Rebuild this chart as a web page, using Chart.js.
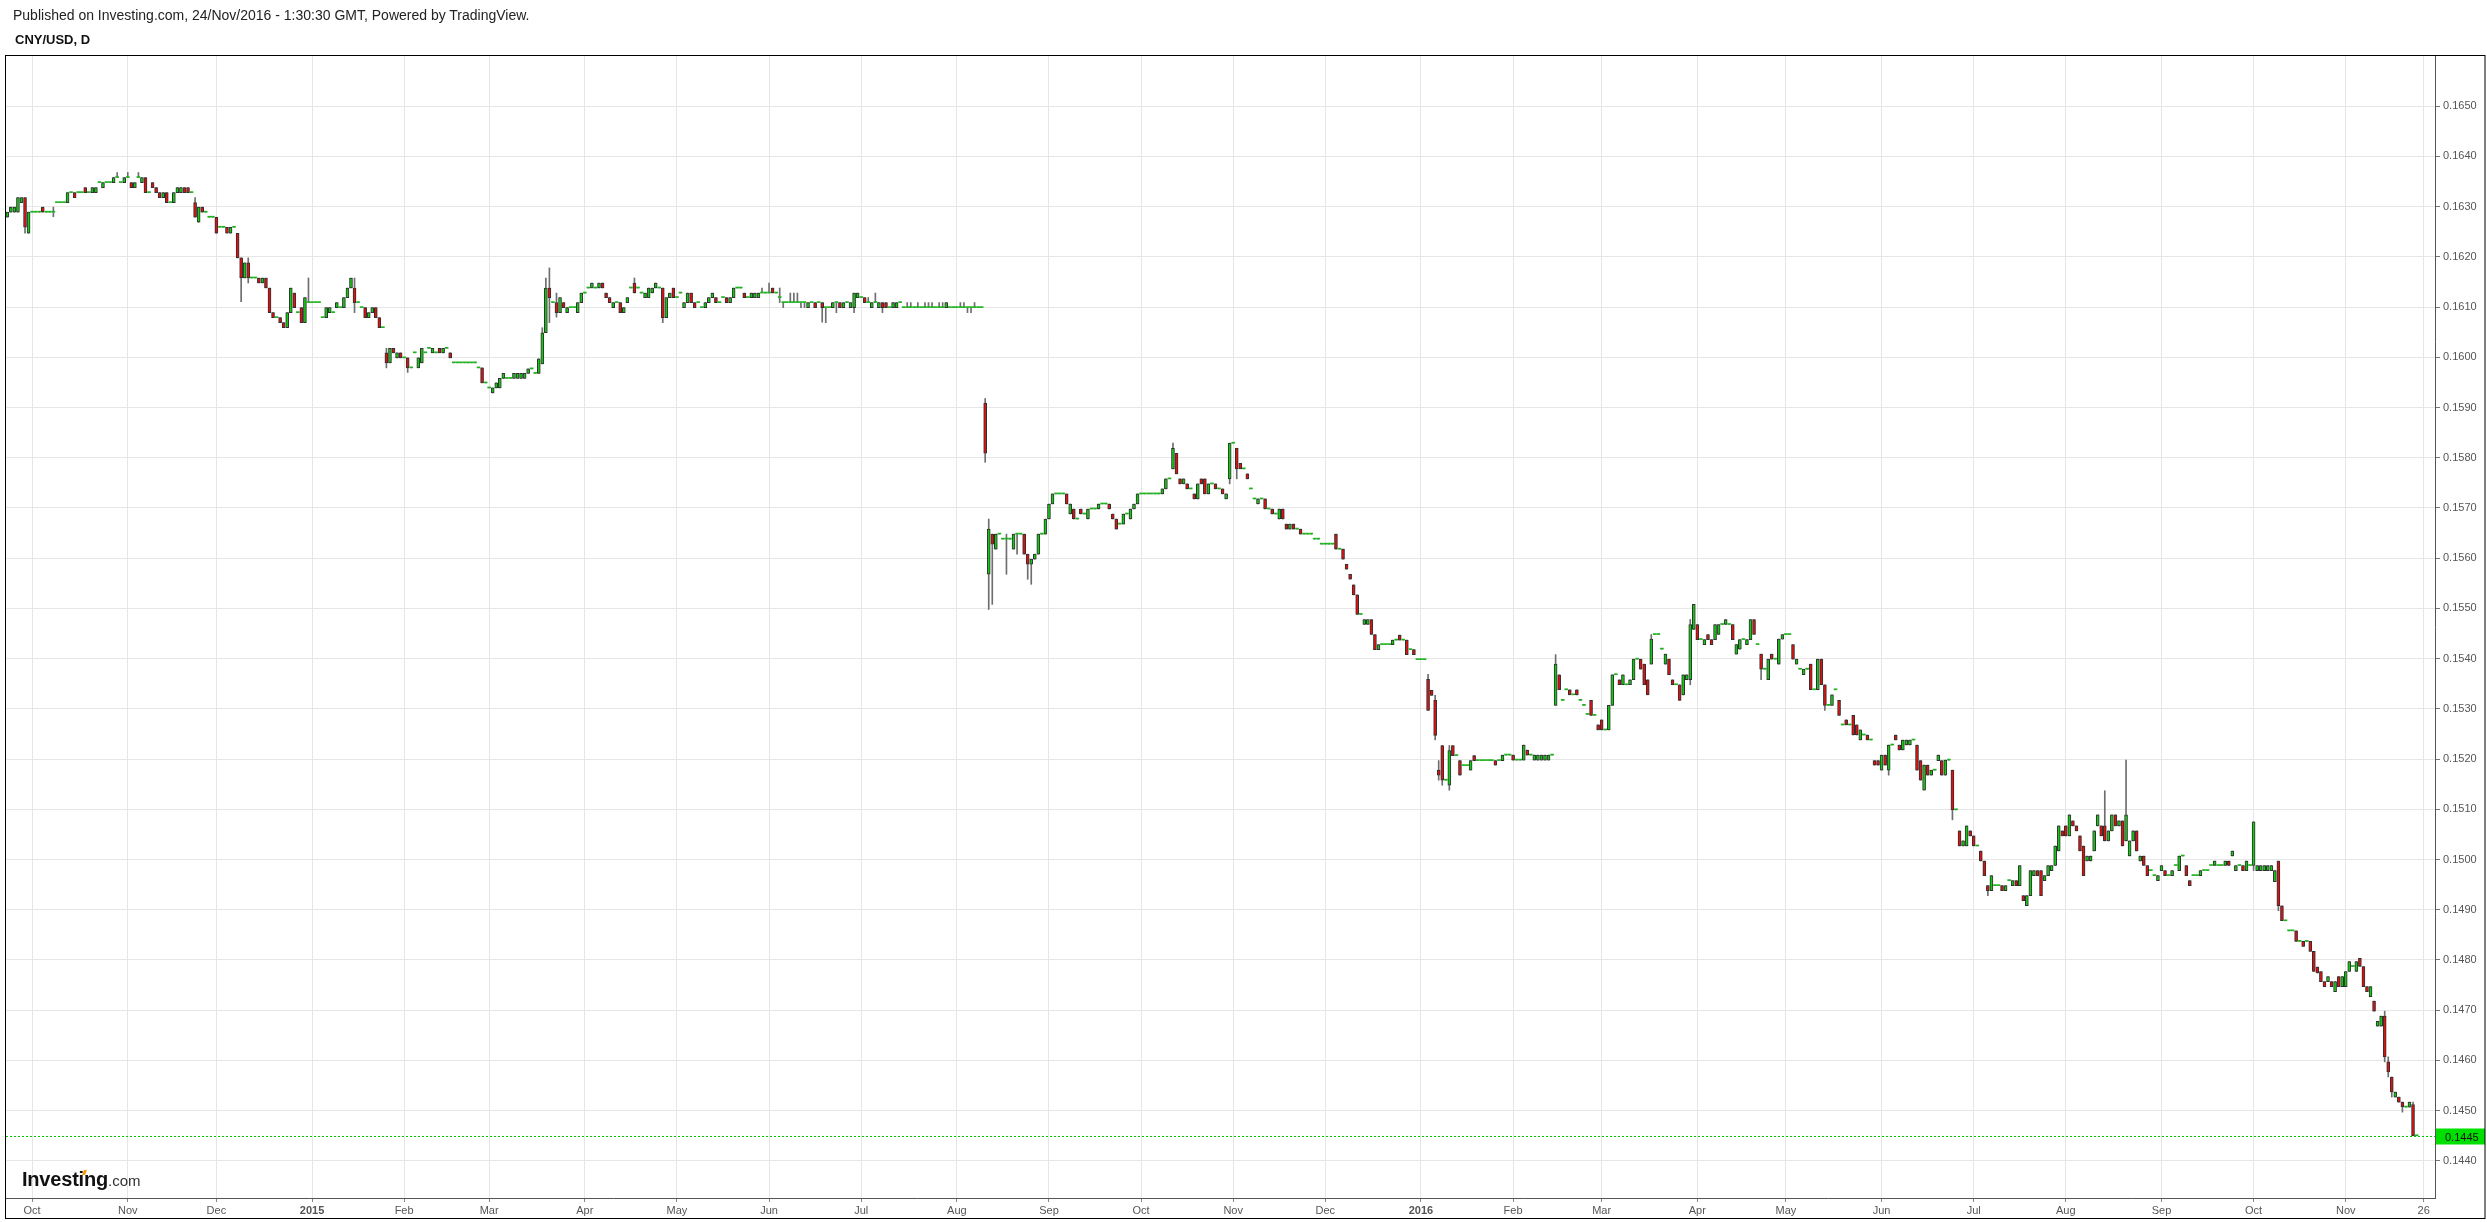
<!DOCTYPE html>
<html><head><meta charset="utf-8">
<script src="https://cdn.jsdelivr.net/npm/chart.js"></script>
<style>
html,body{margin:0;padding:0;background:#fff;}
#wrap{position:relative;width:2487px;height:1222px;overflow:hidden;background:#fff;}
#c{position:absolute;left:0;top:0;}
.t1{position:absolute;left:13px;top:7px;font:14px "Liberation Sans",Arial,sans-serif;color:#222;white-space:nowrap;}
.t2{position:absolute;left:15px;top:32px;font:bold 13px "Liberation Sans",Arial,sans-serif;color:#111;white-space:nowrap;}
.logo{position:absolute;left:22px;top:1168px;white-space:nowrap;color:#111;}
.logo b{font:bold 20px "Liberation Sans",Arial,sans-serif;letter-spacing:-0.2px;}
.logo span{font:15px "Liberation Sans",Arial,sans-serif;color:#333;}
.dot{position:absolute;left:83px;top:1170px;width:3px;height:5px;background:#f59e00;transform:skewX(-20deg);}
</style></head>
<body><div id="wrap">
<canvas id="c" width="2487" height="1222"></canvas>
<div class="t1">Published on Investing.com, 24/Nov/2016 - 1:30:30 GMT, Powered by TradingView.</div>
<div class="t2">CNY/USD, D</div>
<div class="logo"><b>Investing</b><span>.com</span></div>
<div class="dot"></div>
</div>
<script>
// Trading days (Sun–Fri), index 0 = 2014-09-23, last index 680 = 2016-11-24
const firstDay = '2014-09-23';
const opens = [
.16279,.16289,.16289,.16289,.16308,.16318,.16247,.16289,.16289,.16289,
.16299,.16289,.16289,.16289,.16308,.16308,.16308,.16308,.16328,.16328,
.16328,.16328,.16338,.16328,.16328,.16328,.16348,.16338,.16348,.16348,
.16348,.16358,.16348,.16348,.16358,.16348,.16338,.16358,.16348,.16358,
.16328,.16348,.16338,.16328,.16318,.16328,.16308,.16308,.16328,.16328,
.16338,.16338,.16328,.16308,.16269,.16299,.16289,.16279,.16279,.16279,
.16259,.16259,.16259,.16247,.16259,.16247,.16198,.16158,.16188,.16158,
.16158,.16158,.16148,.16158,.16138,.16089,.16079,.16079,.16069,.16059,
.16089,.16128,.16089,.16099,.16069,.16109,.16109,.16109,.16109,.16079,
.16079,.16089,.16089,.16099,.16099,.16099,.16119,.16138,.16138,.16109,
.16099,.16099,.16079,.16089,.16099,.16079,.16059,.16009,.15989,.16018,
.15999,.16009,.15999,.15999,.15979,.16009,.15979,.15989,.16009,.16018,
.16009,.16009,.16018,.16009,.16018,.16009,.15989,.15989,.15989,.15989,
.15989,.15989,.15989,.15979,.15979,.15949,.15939,.15929,.15939,.15939,
.15958,.15958,.15958,.15958,.15958,.15958,.15958,.15968,.15977,.15968,
.15968,.15987,.16049,.16138,.16109,.16109,.16089,.16109,.16089,.16099,
.16099,.16089,.16109,.16128,.16138,.16138,.16138,.16138,.16148,.16128,
.16119,.16099,.16109,.16109,.16089,.16109,.16138,.16148,.16138,.16128,
.16119,.16119,.16128,.16138,.16138,.16138,.16079,.16119,.16138,.16119,
.16128,.16099,.16109,.16128,.16109,.16109,.16099,.16099,.16109,.16119,
.16119,.16109,.16119,.16119,.16109,.16119,.16138,.16138,.16128,.16119,
.16119,.16119,.16119,.16128,.16128,.16128,.16138,.16128,.16119,.16109,
.16109,.16109,.16109,.16109,.16109,.16109,.16099,.16109,.16109,.16109,
.16109,.16099,.16099,.16099,.16109,.16109,.16099,.16109,.16099,.16099,
.16119,.16119,.16119,.16109,.16099,.16109,.16099,.16109,.16109,.16099,
.16099,.16099,.16109,.16099,.16099,.16099,.16099,.16099,.16099,.16099,
.16099,.16099,.16099,.16099,.16099,.16099,.16099,.16099,.16099,.16099,
.16099,.16099,.16099,.16099,.16099,.16099,.15909,.15568,.15648,.15618,
.15648,.15638,.15638,.15638,.15618,.15648,.15648,.15648,.15608,.15588,
.15598,.15608,.15648,.15648,.15678,.15708,.15728,.15728,.15728,.15728,
.15688,.15698,.15678,.15698,.15688,.15678,.15698,.15698,.15698,.15708,
.15708,.15708,.15688,.15678,.15668,.15668,.15688,.15678,.15698,.15708,
.15728,.15728,.15728,.15728,.15728,.15728,.15728,.15738,.15758,.15778,
.15809,.15758,.15748,.15748,.15738,.15728,.15718,.15758,.15758,.15728,
.15748,.15748,.15738,.15738,.15718,.15758,.15829,.15819,.15789,.15778,
.15768,.15738,.15718,.15708,.15718,.15718,.15698,.15698,.15688,.15678,
.15698,.15668,.15658,.15668,.15658,.15658,.15648,.15648,.15648,.15638,
.15638,.15628,.15628,.15628,.15628,.15648,.15618,.15618,.15588,.15568,
.15547,.15527,.15488,.15468,.15468,.15478,.15448,.15418,.15428,.15428,
.15428,.15428,.15437,.15447,.15437,.15437,.15418,.15418,.15398,.15398,
.15398,.15359,.15337,.15317,.15178,.15227,.15158,.15148,.15227,.15207,
.15197,.15187,.15187,.15178,.15207,.15197,.15197,.15197,.15197,.15197,
.15197,.15197,.15197,.15208,.15208,.15208,.15198,.15198,.15198,.15218,
.15208,.15198,.15198,.15198,.15198,.15198,.15208,.15307,.15368,.15317,
.15338,.15338,.15328,.15338,.15317,.15307,.15289,.15317,.15287,.15268,
.15278,.15258,.15258,.15307,.15368,.15358,.15348,.15348,.15348,.15358,
.15399,.15399,.15389,.15358,.15389,.15448,.15448,.15419,.15389,.15399,
.15358,.15348,.15348,.15328,.15358,.15358,.15458,.15468,.15438,.15428,
.15448,.15438,.15438,.15448,.15468,.15468,.15468,.15468,.15409,.15419,
.15438,.15428,.15438,.15478,.15428,.15409,.15379,.15358,.15409,.15399,
.15389,.15439,.15448,.15448,.15428,.15389,.15379,.15368,.15379,.15389,
.15338,.15338,.15399,.15348,.15307,.15307,.15338,.15317,.15268,.15278,
.15268,.15287,.15268,.15238,.15248,.15248,.15238,.15197,.15197,.15178,
.15208,.15178,.15228,.15248,.15228,.15218,.15228,.15228,.15238,.15228,
.15197,.15138,.15188,.15168,.15178,.15197,.15197,.15168,.15198,.15178,
.15099,.15057,.15027,.15027,.15057,.15047,.15027,.15017,.14997,.14948,
.14938,.14948,.14948,.14948,.14938,.14958,.14948,.14958,.14948,.14928,
.14908,.14928,.14968,.14978,.14978,.14958,.14968,.14978,.14988,.15017,
.15057,.15067,.15047,.15077,.15067,.15047,.15027,.14997,.14997,.15017,
.15067,.15067,.15067,.15037,.15057,.15089,.15067,.15077,.15037,.15007,
.15037,.15057,.14997,.15007,.14988,.14978,.14968,.14958,.14978,.14978,
.14968,.14968,.14988,.14978,.15007,.14988,.14958,.14968,.14968,.14968,
.14978,.14978,.14988,.14988,.14988,.14988,.14988,.14997,.15007,.14978,
.14988,.14988,.14978,.14988,.14988,.14978,.14978,.14978,.14978,.14978,
.14956,.14997,.14908,.14878,.14858,.14858,.14858,.14837,.14837,.14837,
.14837,.14817,.14786,.14777,.14757,.14757,.14757,.14737,.14767,.14747,
.14747,.14777,.14787,.14777,.14803,.14787,.14747,.14727,.14718,.14668,
.14668,.14688,.14597,.14567,.14527,.14527,.14517,.14507,.14507,.14512,
.14450];
const closes = [
.16289,.16299,.16299,.16318,.16318,.16259,.16289,.16289,.16289,.16289,
.16289,.16289,.16289,.16289,.16308,.16308,.16308,.16328,.16328,.16318,
.16328,.16328,.16328,.16328,.16338,.16338,.16348,.16348,.16348,.16348,
.16358,.16358,.16348,.16358,.16358,.16338,.16348,.16358,.16358,.16328,
.16328,.16338,.16328,.16318,.16328,.16308,.16308,.16328,.16338,.16338,
.16328,.16328,.16328,.16279,.16299,.16289,.16289,.16279,.16279,.16247,
.16259,.16259,.16247,.16259,.16259,.16198,.16158,.16188,.16158,.16158,
.16158,.16148,.16158,.16138,.16089,.16079,.16079,.16069,.16059,.16089,
.16138,.16099,.16089,.16069,.16119,.16109,.16109,.16109,.16109,.16079,
.16099,.16099,.16089,.16109,.16099,.16119,.16138,.16158,.16109,.16109,
.16099,.16079,.16089,.16099,.16079,.16059,.16059,.15989,.16018,.16009,
.16009,.15999,.15999,.15979,.15979,.16009,.15999,.16018,.16009,.16018,
.16018,.16009,.16009,.16018,.16018,.15999,.15989,.15989,.15989,.15989,
.15989,.15989,.15989,.15979,.15949,.15949,.15939,.15939,.15949,.15958,
.15968,.15958,.15958,.15968,.15968,.15968,.15968,.15977,.15977,.15968,
.15997,.16049,.16138,.16119,.16109,.16089,.16119,.16099,.16099,.16099,
.16099,.16109,.16128,.16128,.16138,.16148,.16138,.16148,.16138,.16119,
.16109,.16109,.16109,.16089,.16099,.16119,.16138,.16128,.16138,.16128,
.16128,.16138,.16138,.16148,.16138,.16079,.16119,.16128,.16119,.16119,
.16128,.16109,.16128,.16109,.16099,.16109,.16099,.16109,.16119,.16128,
.16109,.16109,.16119,.16109,.16119,.16138,.16138,.16138,.16119,.16119,
.16128,.16128,.16128,.16128,.16128,.16128,.16128,.16128,.16119,.16109,
.16109,.16109,.16109,.16109,.16109,.16109,.16109,.16109,.16099,.16109,
.16099,.16099,.16099,.16109,.16109,.16099,.16109,.16109,.16109,.16128,
.16128,.16119,.16109,.16109,.16109,.16109,.16109,.16099,.16099,.16099,
.16109,.16109,.16109,.16099,.16099,.16099,.16099,.16099,.16099,.16099,
.16099,.16099,.16099,.16099,.16099,.16109,.16099,.16099,.16099,.16099,
.16099,.16099,.16099,.16099,.16099,.16099,.15809,.15658,.15628,.15648,
.15648,.15638,.15638,.15638,.15648,.15648,.15648,.15608,.15588,.15598,
.15608,.15648,.15648,.15678,.15708,.15728,.15728,.15728,.15728,.15708,
.15708,.15678,.15678,.15688,.15688,.15698,.15698,.15698,.15708,.15708,
.15708,.15698,.15678,.15658,.15668,.15688,.15688,.15698,.15708,.15728,
.15728,.15728,.15728,.15728,.15728,.15728,.15738,.15758,.15758,.15819,
.15768,.15748,.15758,.15738,.15738,.15718,.15748,.15748,.15728,.15748,
.15748,.15738,.15738,.15728,.15728,.15829,.15829,.15778,.15778,.15778,
.15758,.15738,.15718,.15718,.15718,.15698,.15698,.15688,.15688,.15698,
.15678,.15658,.15668,.15658,.15658,.15648,.15648,.15648,.15648,.15638,
.15638,.15628,.15628,.15628,.15628,.15618,.15618,.15598,.15578,.15558,
.15527,.15488,.15488,.15478,.15478,.15448,.15418,.15428,.15428,.15428,
.15428,.15437,.15437,.15437,.15437,.15408,.15418,.15408,.15398,.15398,
.15398,.15297,.15327,.15247,.15168,.15158,.15158,.15217,.15207,.15207,
.15168,.15187,.15187,.15197,.15197,.15197,.15197,.15197,.15197,.15197,
.15188,.15197,.15208,.15208,.15208,.15198,.15198,.15198,.15228,.15208,
.15208,.15208,.15208,.15208,.15208,.15208,.15208,.15389,.15338,.15317,
.15338,.15328,.15328,.15328,.15317,.15307,.15289,.15287,.15287,.15258,
.15258,.15258,.15307,.15368,.15368,.15348,.15368,.15348,.15358,.15399,
.15399,.15379,.15348,.15328,.15439,.15448,.15448,.15419,.15409,.15368,
.15348,.15348,.15317,.15368,.15368,.15468,.15508,.15438,.15438,.15438,
.15438,.15428,.15468,.15468,.15468,.15478,.15468,.15438,.15428,.15438,
.15438,.15438,.15478,.15448,.15428,.15379,.15379,.15399,.15399,.15399,
.15439,.15448,.15448,.15448,.15399,.15399,.15379,.15379,.15379,.15338,
.15338,.15399,.15348,.15307,.15307,.15328,.15338,.15287,.15268,.15268,
.15268,.15248,.15248,.15258,.15248,.15238,.15238,.15188,.15188,.15208,
.15188,.15228,.15228,.15238,.15218,.15238,.15238,.15238,.15238,.15178,
.15158,.15188,.15168,.15178,.15178,.15208,.15168,.15198,.15198,.15099,
.15099,.15027,.15037,.15067,.15047,.15027,.15027,.14997,.14968,.14938,
.14968,.14948,.14948,.14938,.14948,.14958,.14958,.14948,.14988,.14918,
.14928,.14978,.14978,.14968,.14928,.14968,.14988,.14988,.15027,.15067,
.15047,.15047,.15089,.15067,.15057,.15017,.14968,.15007,.15007,.15057,
.15089,.15047,.15037,.15057,.15089,.15067,.15077,.15027,.15089,.15037,
.15057,.15017,.15007,.14988,.14968,.14978,.14968,.14968,.14988,.14968,
.14968,.14978,.14988,.15007,.15007,.14968,.14948,.14968,.14968,.14978,
.14978,.14978,.14988,.14997,.14988,.14988,.14997,.14988,.15017,.14988,
.14988,.14978,.14997,.14988,.15075,.14988,.14988,.14988,.14988,.14988,
.14978,.14908,.14878,.14878,.14858,.14858,.14837,.14837,.14827,.14837,
.14817,.14777,.14774,.14757,.14747,.14767,.14747,.14757,.14747,.14767,
.14777,.14797,.14787,.14797,.14787,.14747,.14737,.14747,.14698,.14678,
.14688,.14607,.14577,.14537,.14537,.14517,.14508,.14507,.14517,.14450,
.14450];
// wick extremes: [bar index, high, low]
const wickExtremes = [
[5,null,.16247],[13,.16299,.16280],[31,.16368,null],[34,.16368,null],[37,.16368,null],
[53,.16318,null],[66,null,.16111],[68,.16198,.16148],[85,.16158,null],[98,.16158,.16089],
[107,.16018,.15979],[113,null,.15970],[151,.16059,null],[152,.16158,null],[153,.16178,.16069],
[155,.16128,.16080],[177,.16158,null],[185,null,.16069],
[213,.16138,null],[215,.16148,null],[216,.16138,null],[218,.16138,.16109],[219,null,.16099],
[221,.16128,null],[222,.16128,null],[223,.16128,null],[224,null,.16099],[225,null,.16099],
[230,null,.16070],[231,null,.16069],[234,null,.16089],[239,null,.16089],[242,.16119,null],
[243,.16119,null],[245,.16128,null],[247,null,.16089],[254,.16109,null],[255,.16109,null],
[257,.16109,null],[259,.16109,null],[260,.16109,null],[261,.16109,null],[263,.16109,null],
[264,.16109,null],[269,.16109,null],[270,.16109,null],[271,null,.16089],[272,null,.16089],
[273,.16109,null],
[276,.15918,.15791],[277,.15678,.15498],[278,null,.15508],[282,.15648,.15568],[285,null,.15608],
[288,null,.15558],[289,null,.15548],[329,.15829,null],[345,null,.15748],[347,null,.15758],
[401,.15369,null],[403,.15327,.15238],[404,.15197,.15158],[405,null,.15148],[407,.15227,.15138],
[437,.15408,null],[464,.15448,null],[475,.15478,.15348],[495,null,.15358],[513,null,.15297],
[531,null,.15168],[541,null,.15138],[549,null,.15079],[559,.14948,.14928],[592,.15137,null],
[598,.15198,null],[634,null,.14978],[641,null,.14898],[671,.14698,.14597],[672,.14607,.14567],
[673,.14567,.14527],[676,null,.14497],[679,.14517,null]
];
const monthTickIdx = [7,34,59,86,112,136,163,189,215,241,268,294,320,346,372,399,425,450,477,502,529,555,581,608,634,660,682];
const monthLabels  = ['Oct','Nov','Dec','2015','Feb','Mar','Apr','May','Jun','Jul','Aug','Sep','Oct','Nov','Dec','2016','Feb','Mar','Apr','May','Jun','Jul','Aug','Sep','Oct','Nov','26'];
const priceTicks = [0.1440,0.1450,0.1460,0.1470,0.1480,0.1490,0.1500,0.1510,0.1520,0.1530,0.1540,0.1550,0.1560,0.1570,0.1580,0.1590,0.1600,0.1610,0.1620,0.1630,0.1640,0.1650];

if (opens.length !== closes.length) console.error('length mismatch', opens.length, closes.length);

const highs = opens.map((o,i)=>Math.max(o,closes[i]));
const lows  = opens.map((o,i)=>Math.min(o,closes[i]));
wickExtremes.forEach(([i,h,l])=>{ if(h!=null) highs[i]=Math.max(highs[i],h); if(l!=null) lows[i]=Math.min(lows[i],l); });

const GREEN='#12c812', RED='#de1010', DOJI='#1fb41f';
const bodyColors = opens.map((o,i)=> closes[i]>o ? GREEN : closes[i]<o ? RED : DOJI);
const bodyBorders = opens.map((o,i)=> closes[i]===o ? 0 : 1);
const wickData = opens.map((o,i)=>({x:i, y:[lows[i], highs[i]]}));
const bodyData = opens.map((o,i)=>({x:i, y:[o, closes[i]]}));
const lastPrice = closes[closes.length-1];

const frame = {
  id:'frame',
  afterDraw(chart){
    const {ctx, chartArea:a} = chart;
    ctx.save();
    const y = chart.scales.y;
    const py = Math.round(y.getPixelForValue(lastPrice)) + 0.5;
    ctx.strokeStyle = '#00c800'; ctx.lineWidth = 1; ctx.setLineDash([2,2]);
    ctx.beginPath(); ctx.moveTo(a.left, py); ctx.lineTo(a.right, py); ctx.stroke();
    ctx.setLineDash([]);
    ctx.fillStyle = '#00e000';
    ctx.fillRect(a.right + 1, py - 8, chart.width - a.right - 3, 16);
    ctx.fillStyle = '#111'; ctx.font = '11px "Liberation Sans", Arial, sans-serif';
    ctx.textBaseline = 'middle'; ctx.textAlign = 'left';
    ctx.fillText(lastPrice.toFixed(4), a.right + 10, py + 1);
    ctx.strokeStyle = '#000'; ctx.lineWidth = 1;
    ctx.strokeRect(a.left - 0.5, a.top - 0.5, chart.width - 2 - a.left + 0.5, chart.height - 3.5 - a.top + 0.5);
    ctx.restore();
  }
};

new Chart(document.getElementById('c'), {
  type: 'bar',
  data: { datasets: [
    { data: wickData, backgroundColor: '#6e6e6e', borderWidth: 0, barThickness: 1, grouped: false, order: 2 },
    { data: bodyData, backgroundColor: bodyColors, borderColor: '#303030', borderWidth: bodyBorders,
      borderSkipped: false, barThickness: 3, minBarLength: 1, grouped: false, order: 1 }
  ]},
  options: {
    responsive: false, animation: false, devicePixelRatio: 1,
    layout: { padding: { left: 6, top: 56, right: 2, bottom: 4 } },
    plugins: { legend: { display: false }, tooltip: { enabled: false } },
    scales: {
      x: {
        type: 'linear', min: -0.37, max: 685.2, offset: false,
        afterBuildTicks: s => { s.ticks = monthTickIdx.map(v => ({ value: v })); },
        afterFit: s => { s.height = 20; },
        ticks: {
          autoSkip: false, maxRotation: 0, minRotation: 0, color: '#555', padding: 2,
          font: c => ({ family: '"Liberation Sans", Arial, sans-serif', size: 11,
                        weight: /^\d{4}$/.test(monthLabels[c.index] || '') ? 'bold' : 'normal' }),
          callback: (v, i) => monthLabels[i]
        },
        grid: { color: '#e6e6e6', lineWidth: 1, drawTicks: true, tickLength: 4, tickColor: '#888', offset: false },
        border: { display: true, color: '#555', width: 1 }
      },
      y: {
        position: 'right', min: 0.14326, max: 0.1660,
        afterBuildTicks: s => { s.ticks = priceTicks.map(v => ({ value: v })); },
        afterFit: s => { s.width = 50; },
        ticks: { color: '#555', padding: 3, font: { family: '"Liberation Sans", Arial, sans-serif', size: 11 },
                 callback: v => Number(v).toFixed(4) },
        grid: { color: '#e6e6e6', lineWidth: 1, drawTicks: true, tickLength: 5, tickColor: '#777' },
        border: { display: true, color: '#555', width: 1 }
      }
    }
  },
  plugins: [frame]
});
</script>
</body></html>
